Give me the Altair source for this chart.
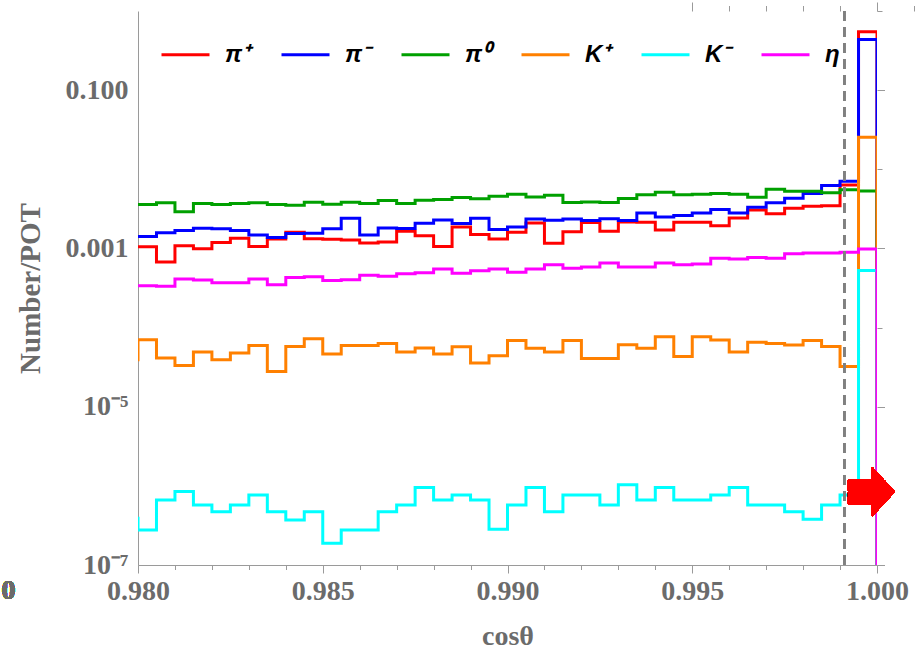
import altair as alt
import pandas as pd

# Histogram layout: 40 bins of width 0.0005 covering cos(theta) in [0.980, 1.000]
BIN_START = 0.980
BIN_WIDTH = 0.0005

series_names = ["π⁺", "π⁻", "π⁰", "K⁺", "K⁻", "η"]
series_colors = ["#ff0000", "#0000ff", "#00a000", "#ff8000", "#00ffff", "#ff00ff"]

# Number per POT in each bin (left to right)
pi_plus = [1.05e-3, 6.75e-4, 1.08e-3, 9.9e-4, 1.19e-3, 1.34e-3, 1.06e-3, 1.32e-3, 1.60e-3, 1.33e-3,
           1.31e-3, 1.28e-3, 1.17e-3, 1.21e-3, 1.65e-3, 1.45e-3, 1.06e-3, 1.87e-3, 1.50e-3, 1.32e-3,
           1.60e-3, 2.10e-3, 1.16e-3, 1.63e-3, 2.12e-3, 1.65e-3, 2.16e-3, 2.14e-3, 1.71e-3, 2.14e-3,
           2.14e-3, 1.94e-3, 2.43e-3, 3.07e-3, 2.75e-3, 3.21e-3, 3.41e-3, 3.45e-3, 6.32e-3, 0.548]
pi_minus = [1.41e-3, 1.58e-3, 1.69e-3, 1.80e-3, 1.77e-3, 1.68e-3, 1.48e-3, 1.37e-3, 1.54e-3, 1.55e-3,
            1.77e-3, 2.40e-3, 1.48e-3, 1.81e-3, 1.78e-3, 2.08e-3, 2.29e-3, 2.06e-3, 2.40e-3, 1.73e-3,
            1.87e-3, 2.36e-3, 2.27e-3, 2.36e-3, 2.25e-3, 2.38e-3, 2.25e-3, 2.81e-3, 2.50e-3, 2.60e-3,
            2.81e-3, 3.10e-3, 2.81e-3, 3.31e-3, 3.77e-3, 4.30e-3, 4.93e-3, 6.23e-3, 7.06e-3, 0.438]
pi_zero = [3.58e-3, 3.77e-3, 2.90e-3, 3.69e-3, 3.58e-3, 3.69e-3, 3.77e-3, 3.58e-3, 3.51e-3, 3.83e-3,
           3.61e-3, 3.83e-3, 3.69e-3, 4.03e-3, 3.69e-3, 4.06e-3, 4.14e-3, 4.39e-3, 4.23e-3, 4.56e-3,
           4.83e-3, 4.48e-3, 4.70e-3, 3.80e-3, 3.87e-3, 3.80e-3, 4.27e-3, 4.75e-3, 5.13e-3, 4.75e-3,
           4.83e-3, 4.93e-3, 4.83e-3, 4.43e-3, 5.59e-3, 5.27e-3, 5.27e-3, 5.04e-3, 5.50e-3, 5.31e-3]
k_plus = [7.02e-5, 4.12e-5, 3.32e-5, 4.91e-5, 3.92e-5, 4.77e-5, 5.94e-5, 2.79e-5, 5.78e-5, 7.23e-5,
          4.63e-5, 5.94e-5, 5.94e-5, 6.30e-5, 4.91e-5, 5.51e-5, 4.63e-5, 5.73e-5, 3.56e-5, 4.41e-5,
          6.86e-5, 5.47e-5, 4.91e-5, 6.86e-5, 4.08e-5, 4.08e-5, 6.07e-5, 5.47e-5, 7.66e-5, 4.32e-5,
          7.66e-5, 6.96e-5, 4.91e-5, 6.53e-5, 6.29e-5, 6.01e-5, 6.86e-5, 5.78e-5, 3.23e-5, 2.54e-2]
k_minus = [2.77e-7, 6.64e-7, 8.46e-7, 5.74e-7, 4.72e-7, 5.74e-7, 7.69e-7, 4.72e-7, 3.71e-7, 4.72e-7,
           1.88e-7, 2.77e-7, 2.77e-7, 4.72e-7, 5.74e-7, 9.50e-7, 6.64e-7, 7.69e-7, 6.64e-7, 2.83e-7,
           5.74e-7, 9.50e-7, 4.72e-7, 7.69e-7, 7.69e-7, 5.74e-7, 1.03e-6, 6.64e-7, 9.50e-7, 6.64e-7,
           6.64e-7, 7.69e-7, 9.50e-7, 5.74e-7, 5.74e-7, 4.72e-7, 3.79e-7, 5.74e-7, 7.69e-7, 5.28e-4]
eta = [3.38e-4, 3.32e-4, 4.12e-4, 4.00e-4, 3.69e-4, 3.69e-4, 4.12e-4, 3.48e-4, 4.30e-4, 4.40e-4,
       3.92e-4, 4.03e-4, 4.59e-4, 4.44e-4, 4.80e-4, 4.94e-4, 5.51e-4, 4.86e-4, 5.24e-4, 5.51e-4,
       4.99e-4, 5.51e-4, 6.24e-4, 5.60e-4, 5.83e-4, 6.56e-4, 5.83e-4, 5.83e-4, 6.56e-4, 6.24e-4,
       6.37e-4, 7.50e-4, 7.36e-4, 7.69e-4, 7.54e-4, 8.59e-4, 8.77e-4, 8.77e-4, 8.93e-4, 9.80e-4]

# content of the bin just below 0.980 (only its edge at 0.980 is visible)
below_range = [1.05e-3, 1.41e-3, 3.58e-3, 3.92e-5, 3.90e-7, 3.38e-4]

# angular cut marked by the dashed line
cut_cos = 0.99911

x_major = [0.980, 0.985, 0.990, 0.995, 1.000]
y_major = [0.1, 1e-3, 1e-5, 1e-7]
y_decades = [1.0, 0.1, 1e-2, 1e-3, 1e-4, 1e-5, 1e-6, 1e-7]
# tick positions on the right frame (log10 of value)
right_tick_exp = [-0.431, -0.867, -1.302, -1.738, -2.174, -2.609, -3.045, -3.481,
                  -3.917, -4.352, -4.788, -5.224, -5.659, -6.095, -6.531, -6.966]

all_series = [pi_plus, pi_minus, pi_zero, k_plus, k_minus, eta]
rows = []
for name, prior, vals in zip(series_names, below_range, all_series):
    rows.append({"series": name, "cos": round(BIN_START - BIN_WIDTH, 4), "n": prior})
    for i, v in enumerate(vals):
        rows.append({"series": name, "cos": round(BIN_START + i * BIN_WIDTH, 4), "n": v})
    # close the last bin down to the floor
    rows.append({"series": name, "cos": 1.0, "n": 1e-12})
df = pd.DataFrame(rows)

W, H = 739, 554
GRAY = "#6b6b6b"
FRAME = "#9a9a9a"
SERIF = "Liberation Serif"

x_minor = [round(0.980 + 0.001 * i, 3) for i in range(21)]
right_ticks = [10 ** e for e in right_tick_exp]

x_scale = alt.Scale(domain=[0.98, 1.0], nice=False, zero=False)
y_scale = alt.Scale(type="log", domain=[1e-7, 1.0], nice=False)

x_major_test = "abs(datum.value*200 - round(datum.value*200)) < 0.01"
y_major_test = "round(-log(datum.value)/LN10) % 2 == 1"

lines = alt.Chart(df).mark_line(interpolate="step-after", strokeWidth=3, clip=True).encode(
    x=alt.X("cos:Q", scale=x_scale,
            axis=alt.Axis(orient="bottom", values=x_major, format=".3f", ticks=False,
                          domain=True, domainColor=FRAME, domainWidth=1, grid=False,
                          labelFont=SERIF, labelFontWeight="bold", labelFontSize=28,
                          labelColor=GRAY, labelPadding=12, labelFlush=False,
                          labelOverlap=False, labelBaseline="top",
                          title="cosθ", titleFont=SERIF, titleFontWeight="bold",
                          titleFontSize=28, titleColor=GRAY, titleY=79,
                          titleBaseline="alphabetic")),
    y=alt.Y("n:Q", scale=y_scale,
            axis=alt.Axis(orient="left", values=y_major, ticks=False, domain=True,
                          domainColor=FRAME, domainWidth=1, grid=False,
                          labelExpr="datum.value > 0.05 ? '0.100' : datum.value > 5e-4 ? '0.001' : datum.value > 5e-6 ? '10⁻⁵' : '10⁻⁷'",
                          labelFont=SERIF, labelFontWeight="bold", labelFontSize=28,
                          labelColor=GRAY, labelPadding=10, labelFlush=False,
                          labelOverlap=False,
                          title="Number/POT", titleFont=SERIF, titleFontWeight="bold",
                          titleFontSize=29, titleColor=GRAY, titleX=-108, titleY=277,
                          titleAngle=-90, titleAlign="center", titleBaseline="middle")),
    color=alt.Color("series:N", sort=series_names,
                    scale=alt.Scale(domain=series_names, range=series_colors),
                    legend=alt.Legend(orient="none", legendX=22, legendY=18,
                                      direction="horizontal", columns=6, gridAlign="all",
                                      symbolType="stroke", symbolSize=2304,
                                      symbolStrokeWidth=3, labelFont="Liberation Sans",
                                      labelFontSize=24, labelFontWeight="bold",
                                      labelFontStyle="italic", labelColor="black",
                                      labelOffset=14, columnPadding=24, padding=0,
                                      title=None)),
)

# dashed cut line; also carries the inward ticks on the bottom and left edges
cut = alt.Chart(df).mark_rule(strokeDash=[10, 6], strokeWidth=2, color="#808080").encode(
    x=alt.XDatum(cut_cos, type="quantitative", scale=x_scale,
                 axis=alt.Axis(orient="top", position=H, values=x_minor, labels=False,
                               domain=False, grid=False, tickColor=FRAME, tickWidth=1,
                               tickSize={"condition": {"test": x_major_test, "value": 9},
                                         "value": 5.5},
                               title=None)),
    y=alt.YDatum(1e-7, type="quantitative", scale=y_scale,
                 axis=alt.Axis(orient="right", position=0, values=y_decades, labels=False,
                               domain=False, grid=False, tickColor=FRAME, tickWidth=1,
                               tickSize={"condition": {"test": y_major_test, "value": 7.5},
                                         "value": 5},
                               title=None)),
    y2=alt.Y2Datum(1.0),
)

# arrow marker; also carries the top and right frame with their ticks
arrow_path = "M -0.94 -0.5 L 0.02 -0.5 L 0.02 -1 L 0.94 0 L 0.02 1 L 0.02 0.5 L -0.94 0.5 Z"
arrow = alt.Chart(df).mark_point(shape=arrow_path, filled=True, size=2500, color="#ff0000",
                                 opacity=1, strokeWidth=0, clip=False).encode(
    x=alt.XDatum(0.999851, type="quantitative", scale=x_scale,
                 axis=alt.Axis(orient="bottom", position=0, values=x_minor, labels=False,
                               domain=True, domainColor=FRAME, domainWidth=1, grid=False,
                               tickColor=FRAME, tickWidth=1,
                               tickSize={"condition": {"test": x_major_test, "value": 8},
                                         "value": 4.5},
                               title=None)),
    y=alt.YDatum(8.44e-7, type="quantitative", scale=y_scale,
                 axis=alt.Axis(orient="left", position=W, values=right_ticks, labels=False,
                               domain=True, domainColor=FRAME, domainWidth=1, grid=False,
                               tickColor=FRAME, tickWidth=1, tickSize=5, title=None)),
)

# stray tick label at the far left edge
stray = alt.Chart(df).mark_text(text="0", font=SERIF, fontWeight="bold", fontSize=28,
                                color=GRAY, align="center", baseline="top", clip=False).encode(
    x=alt.XDatum(0.976495, type="quantitative", scale=x_scale, axis=None),
    y=alt.YDatum(7.05e-8, type="quantitative", scale=y_scale, axis=None),
)

chart = alt.layer(lines, cut, arrow, stray).resolve_axis(
    x="independent", y="independent"
).properties(
    width=W, height=H,
    autosize=alt.AutoSizeParams(type="none"),
    padding={"left": 138, "top": 11, "right": 47, "bottom": 87},
    background="white",
).configure_view(strokeWidth=0)

chart.save("out.html", embed_options={"renderer": "svg", "actions": False})
